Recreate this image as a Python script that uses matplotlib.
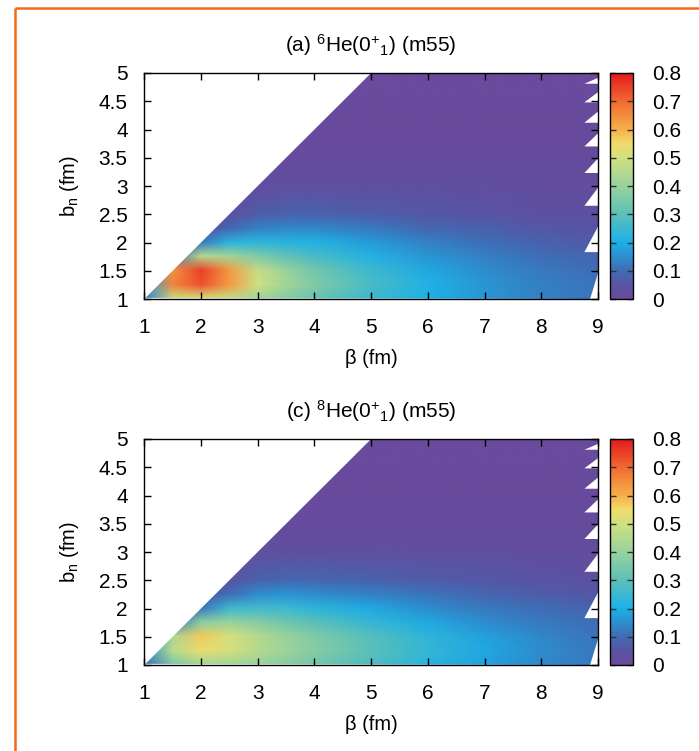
import matplotlib
matplotlib.use('Agg')
import matplotlib.pyplot as plt
import numpy as np
from matplotlib.colors import LinearSegmentedColormap, Normalize
from matplotlib.image import NonUniformImage
from matplotlib.patches import Polygon
from matplotlib.lines import Line2D

plt.rcParams['font.family'] = ['Liberation Sans', 'DejaVu Sans']
plt.rcParams['mathtext.fontset'] = 'custom'
plt.rcParams['mathtext.rm'] = 'Liberation Sans'
plt.rcParams['mathtext.it'] = 'Liberation Sans:italic'
plt.rcParams['mathtext.sf'] = 'Liberation Sans'

# grid (β along x, b_n along y)
betas = [1.0, 1.5, 2.0, 2.5, 3.0, 3.5, 4.0, 5.0, 6.0, 7.0, 8.0, 9.0]
bns = [1.0, 1.25, 1.5, 1.75, 2.0, 2.25, 2.5, 3.0, 3.5, 4.0, 5.0]

# (a) 6He overlap, one row per b_n
he6 = [
    [0.12, 0.48, 0.52, 0.48, 0.42, 0.37, 0.32, 0.25, 0.20, 0.16, 0.13, 0.11],
    [0.20, 0.66, 0.73, 0.63, 0.50, 0.42, 0.36, 0.27, 0.21, 0.16, 0.13, 0.11],
    [0.15, 0.64, 0.75, 0.63, 0.48, 0.40, 0.34, 0.25, 0.19, 0.15, 0.12, 0.10],
    [0.05, 0.10, 0.45, 0.42, 0.36, 0.31, 0.27, 0.21, 0.16, 0.13, 0.10, 0.09],
    [0.03, 0.05, 0.12, 0.22, 0.23, 0.22, 0.21, 0.17, 0.13, 0.10, 0.08, 0.07],
    [0.02, 0.03, 0.05, 0.09, 0.13, 0.14, 0.14, 0.12, 0.09, 0.08, 0.06, 0.05],
    [0.01, 0.02, 0.03, 0.04, 0.07, 0.08, 0.08, 0.07, 0.06, 0.05, 0.04, 0.04],
    [0.0, 0.01, 0.01, 0.02, 0.02, 0.03, 0.03, 0.03, 0.03, 0.03, 0.02, 0.02],
    [0.0, 0.0, 0.0, 0.01, 0.01, 0.01, 0.01, 0.01, 0.01, 0.01, 0.01, 0.01],
    [0.0, 0.0, 0.0, 0.0, 0.0, 0.005, 0.005, 0.005, 0.005, 0.005, 0.005, 0.005],
    [0.0, 0.0, 0.0, 0.0, 0.0, 0.0, 0.0, 0.0, 0.0, 0.0, 0.0, 0.0],
]

# (c) 8He overlap
he8 = [
    [0.10, 0.35, 0.43, 0.42, 0.40, 0.37, 0.34, 0.28, 0.22, 0.18, 0.14, 0.12],
    [0.15, 0.46, 0.54, 0.51, 0.45, 0.41, 0.37, 0.30, 0.24, 0.19, 0.15, 0.12],
    [0.12, 0.44, 0.57, 0.51, 0.45, 0.40, 0.36, 0.29, 0.23, 0.18, 0.14, 0.11],
    [0.05, 0.10, 0.38, 0.40, 0.37, 0.33, 0.30, 0.24, 0.19, 0.15, 0.12, 0.10],
    [0.03, 0.05, 0.12, 0.25, 0.26, 0.25, 0.23, 0.19, 0.15, 0.12, 0.10, 0.08],
    [0.02, 0.03, 0.05, 0.10, 0.15, 0.16, 0.15, 0.13, 0.11, 0.09, 0.07, 0.06],
    [0.01, 0.02, 0.03, 0.05, 0.08, 0.09, 0.09, 0.08, 0.07, 0.06, 0.05, 0.04],
    [0.0, 0.01, 0.01, 0.02, 0.03, 0.03, 0.03, 0.03, 0.03, 0.03, 0.02, 0.02],
    [0.0, 0.0, 0.0, 0.01, 0.01, 0.01, 0.01, 0.01, 0.01, 0.01, 0.01, 0.01],
    [0.0, 0.0, 0.0, 0.0, 0.0, 0.005, 0.005, 0.005, 0.005, 0.005, 0.005, 0.005],
    [0.0, 0.0, 0.0, 0.0, 0.0, 0.0, 0.0, 0.0, 0.0, 0.0, 0.0, 0.0],
]

# b_n rows where the right edge of the mesh breaks (white notches)
notch_rows = [1.83, 2.65, 3.23, 3.70, 4.12, 4.48, 4.81]

titles = [r'(a) $^{6}$He(0$^{+}{}_{1}$) (m55)', r'(c) $^{8}$He(0$^{+}{}_{1}$) (m55)']
cbar_ticks = [0, 0.1, 0.2, 0.3, 0.4, 0.5, 0.6, 0.7, 0.8]

cmap = LinearSegmentedColormap.from_list('pal', [
    (0.0, '#6a4a9c'), (0.0625, '#5a53a3'), (0.125, '#3f6db5'),
    (0.25, '#1cb0e8'), (0.375, '#5dc0b8'), (0.5, '#98d29c'),
    (0.625, '#cfe082'), (0.6875, '#f0dc6a'), (0.75, '#f6b04a'),
    (0.875, '#f06a32'), (1.0, '#e31a1c')])
norm = Normalize(0, 0.8)


def region_outline():
    # allowed region b_n <= beta, with the jagged right edge
    pts = [(1.02, 1.02), (5.0, 5.0), (9.0, 5.0)]
    edges = [1.0] + notch_rows + [5.0]
    right = []
    for k in range(len(edges) - 1):
        b0, b1 = edges[k], edges[k + 1]
        h = 0.55 * (b1 - b0)
        right.append((8.76 if k else 8.86, b0))
        right.append((9.0, min(b0 + h, b1)))
        right.append((9.0, b1))
    pts += right[::-1]
    pts += [(1.02, 1.02)]
    return pts


W, H = 699, 751
fig = plt.figure(figsize=(W / 100, H / 100), dpi=100)

panels = [(73, 299), (439, 665)]
for (top, bot), z, title in zip(panels, [he6, he8], titles):
    ax = fig.add_axes([144.3 / W, 1 - bot / H, (598 - 144.3) / W, (bot - top) / H])
    im = NonUniformImage(ax, interpolation='bilinear', extent=(1, 9, 1, 5),
                         cmap=cmap, norm=norm)
    im.set_data(np.array(betas), np.array(bns), np.array(z))
    ax.add_image(im)
    clip = Polygon(region_outline(), closed=True, transform=ax.transData,
                   facecolor='none', edgecolor='none')
    im.set_clip_path(clip)
    ax.set_xlim(1, 9)
    ax.set_ylim(1, 5)
    ax.set_xticks(range(1, 10))
    ax.set_yticks([1, 1.5, 2, 2.5, 3, 3.5, 4, 4.5, 5])
    ax.set_yticklabels(['1', '1.5', '2', '2.5', '3', '3.5', '4', '4.5', '5'])
    ax.tick_params(direction='in', top=True, right=True, length=5, width=1,
                   labelsize=15)
    ax.tick_params(axis='x', pad=14)
    ax.tick_params(axis='y', pad=12)
    for s in ax.spines.values():
        s.set_linewidth(1.0)
    ax.set_xlabel('β (fm)', fontsize=14.5, labelpad=8)
    ax.set_ylabel(r'b$_\mathregular{n}$ (fm)', fontsize=14.5, labelpad=13)
    ax.set_title(title, fontsize=15, pad=15)

    cax = fig.add_axes([610 / W, 1 - bot / H, 23 / W, (bot - top) / H])
    cb = fig.colorbar(im, cax=cax, ticks=cbar_ticks)
    cb.ax.set_yticklabels(['0', '0.1', '0.2', '0.3', '0.4', '0.5', '0.6', '0.7', '0.8'])
    cb.ax.tick_params(direction='in', left=True, right=True, length=4,
                      width=1, labelsize=15, pad=14, color='#333333')
    cb.outline.set_linewidth(1.0)

# orange frame (top and left edges)
fx = 15 / W
fy = 1 - 7.5 / H
fig.add_artist(Line2D([fx, fx], [0, fy], transform=fig.transFigure,
                      color='#f26a1b', lw=1.8, solid_capstyle='butt'))
fig.add_artist(Line2D([fx, 1.0], [fy, fy], transform=fig.transFigure,
                      color='#f26a1b', lw=1.8, solid_capstyle='butt'))

fig.savefig('out.png', dpi=100)
